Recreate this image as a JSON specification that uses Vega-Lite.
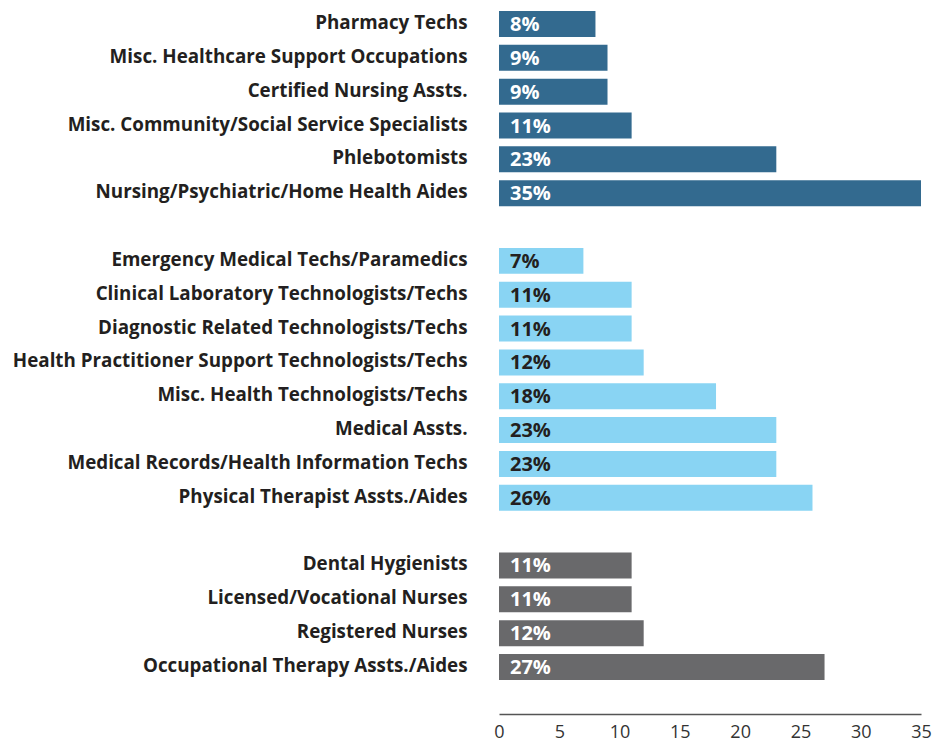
{
  "$schema": "https://vega.github.io/schema/vega-lite/v6.json",
  "autosize": {"type": "none"},
  "padding": {"left": 499, "top": 0, "right": 18, "bottom": 29},
  "width": 422,
  "height": 714,
  "background": "white",
  "config": {"view": {"stroke": null}, "font": "Open Sans"},
  "data": {"values": [
    {"occ": "Pharmacy Techs", "pct": 8, "group": "support"},
    {"occ": "Misc. Healthcare Support Occupations", "pct": 9, "group": "support"},
    {"occ": "Certified Nursing Assts.", "pct": 9, "group": "support"},
    {"occ": "Misc. Community/Social Service Specialists", "pct": 11, "group": "support"},
    {"occ": "Phlebotomists", "pct": 23, "group": "support"},
    {"occ": "Nursing/Psychiatric/Home Health Aides", "pct": 35, "group": "support"},
    {"occ": "Emergency Medical Techs/Paramedics", "pct": 7, "group": "tech"},
    {"occ": "Clinical Laboratory Technologists/Techs", "pct": 11, "group": "tech"},
    {"occ": "Diagnostic Related Technologists/Techs", "pct": 11, "group": "tech"},
    {"occ": "Health Practitioner Support Technologists/Techs", "pct": 12, "group": "tech"},
    {"occ": "Misc. Health Technologists/Techs", "pct": 18, "group": "tech"},
    {"occ": "Medical Assts.", "pct": 23, "group": "tech"},
    {"occ": "Medical Records/Health Information Techs", "pct": 23, "group": "tech"},
    {"occ": "Physical Therapist Assts./Aides", "pct": 26, "group": "tech"},
    {"occ": "Dental Hygienists", "pct": 11, "group": "nurse"},
    {"occ": "Licensed/Vocational Nurses", "pct": 11, "group": "nurse"},
    {"occ": "Registered Nurses", "pct": 12, "group": "nurse"},
    {"occ": "Occupational Therapy Assts./Aides", "pct": 27, "group": "nurse"}
  ]},
  "encoding": {
    "y": {
      "field": "occ", "type": "nominal",
      "scale": {
        "domain": ["Pharmacy Techs", "Misc. Healthcare Support Occupations", "Certified Nursing Assts.", "Misc. Community/Social Service Specialists", "Phlebotomists", "Nursing/Psychiatric/Home Health Aides", "gap1", "Emergency Medical Techs/Paramedics", "Clinical Laboratory Technologists/Techs", "Diagnostic Related Technologists/Techs", "Health Practitioner Support Technologists/Techs", "Misc. Health Technologists/Techs", "Medical Assts.", "Medical Records/Health Information Techs", "Physical Therapist Assts./Aides", "gap2", "Dental Hygienists", "Licensed/Vocational Nurses", "Registered Nurses", "Occupational Therapy Assts./Aides"],
        "paddingInner": 0.232,
        "paddingOuter": 0.665,
        "align": 0.244
      },
      "axis": {
        "title": null, "domain": false, "ticks": false,
        "labelPadding": 32, "labelFontSize": 18.8, "labelFontWeight": "bold",
        "labelColor": "#231f20", "labelLimit": 600, "labelOffset": -1,
        "labelExpr": "indexof(datum.value, 'gap') == 0 ? '' : datum.value"
      }
    }
  },
  "layer": [
    {
      "mark": {"type": "bar"},
      "encoding": {
        "x": {
          "field": "pct", "type": "quantitative",
          "scale": {"domain": [0, 35], "nice": false},
          "axis": {
            "title": null, "values": [0, 5, 10, 15, 20, 25, 30, 35],
            "grid": false, "ticks": false, "domainColor": "#555555", "domainWidth": 1.5,
            "labelFontSize": 18, "labelColor": "#333333", "labelPadding": 9,
            "labelFlush": false
          }
        },
        "color": {
          "field": "group", "type": "nominal",
          "scale": {"domain": ["support", "tech", "nurse"], "range": ["#336a8f", "#89d4f3", "#69696b"]},
          "legend": null
        }
      }
    },
    {
      "mark": {"type": "text", "align": "left", "baseline": "middle", "dx": 11, "dy": 1, "fontSize": 20, "fontWeight": "bold", "text": {"expr": "datum.pct + '%'"}},
      "encoding": {
        "x": {"datum": 0, "type": "quantitative"},
        "color": {"condition": {"test": "datum.group === 'tech'", "value": "#231f20"}, "value": "#ffffff"}
      }
    }
  ]
}
